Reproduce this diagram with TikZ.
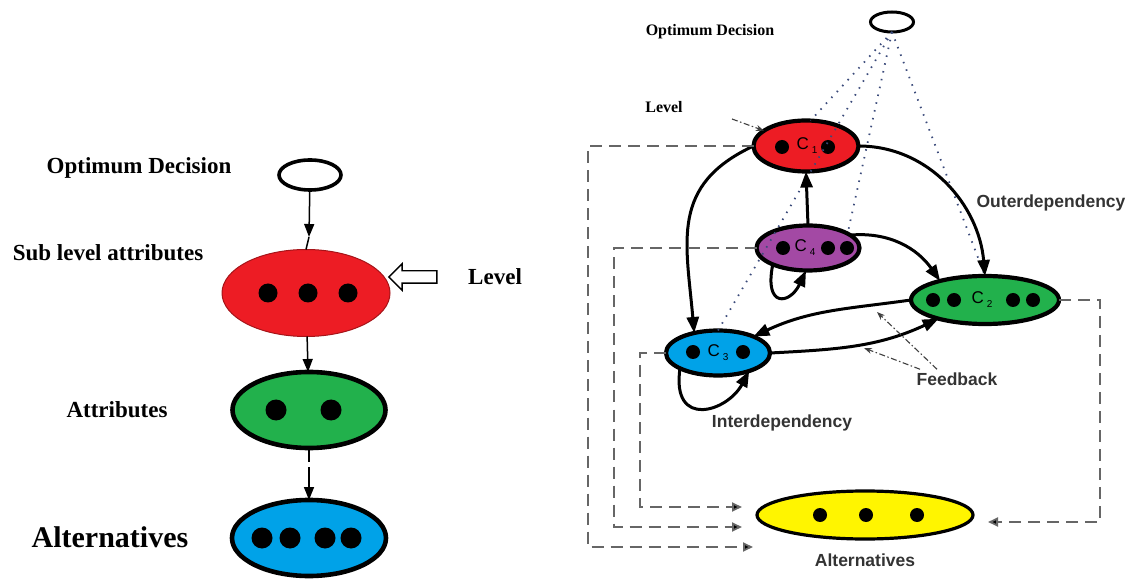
\documentclass[tikz,border=0pt]{standalone}
\usepackage{fontspec}
\setmainfont{Liberation Serif}
\setsansfont{Liberation Sans}
\usetikzlibrary{shapes.geometric, shapes.arrows, arrows.meta, positioning}

\definecolor{levred}{HTML}{ED1C24}
\definecolor{attgreen}{HTML}{22B14C}
\definecolor{altblue}{HTML}{00A2E8}
\definecolor{critpurple}{HTML}{A349A4}
\definecolor{altyellow}{HTML}{FFF500}
\definecolor{dotblue}{HTML}{3A4A7A}
\definecolor{dashgray}{HTML}{666666}

\newcommand{\critlab}[1]{{\sffamily\fontsize{17}{17}\selectfont C\,\raisebox{-4pt}{\fontsize{10}{10}\selectfont #1}}}

\begin{document}
\begin{tikzpicture}[x=1pt, y=1pt, outer sep=0pt]

\tikzstyle{blob}=[ellipse, draw, line width=4.2pt, inner sep=0pt]
\tikzstyle{bigtext}=[font=\bfseries\fontsize{23}{26}\selectfont]
\tikzstyle{smalltext}=[font=\bfseries\fontsize{16}{18}\selectfont]
\tikzstyle{sanstext}=[font=\sffamily\bfseries\fontsize{17.5}{20}\selectfont, text=black!80]
\tikzstyle{thinarr}=[line width=1.5pt, -{Triangle[length=13pt, width=10pt]}]
\tikzstyle{solidarr}=[line width=3pt, -{Triangle[length=16pt, width=12pt]}]
\tikzstyle{dasharr}=[line width=1.8pt, dashgray, dash pattern=on 12pt off 7pt, -{Triangle[length=10pt, width=9pt, fill=black]}]
\tikzstyle{dotline}=[line width=1.8pt, dotblue, dash pattern=on 1.5pt off 6.5pt]
\tikzstyle{fbarrow}=[line width=1.1pt, black!75, dash pattern=on 6pt off 2.5pt on 1.5pt off 2.5pt, -{Stealth[length=8pt, width=6pt]}]

\useasboundingbox (0,0) rectangle (1131,581);

% left: the plain hierarchy
\node[blob, fill=white, line width=3.6pt, minimum width=62pt, minimum height=30pt] (optL) at (310,406) {};
\node[ellipse, draw=levred!70!black, line width=1pt, fill=levred, minimum width=168pt, minimum height=87pt] (subL) at (306,288) {};
\node[blob, fill=attgreen, line width=4.6pt, minimum width=153pt, minimum height=76pt] (attL) at (309,171) {};
\node[blob, fill=altblue, line width=4.6pt, minimum width=154pt, minimum height=76pt] (altL) at (309,43) {};

\foreach \x in {268,308,348} \fill (\x,288) circle (9.5);
\foreach \x in {276,331} \fill (\x,171) circle (10.5);
\foreach \x in {262,290,325,351} \fill (\x,43) circle (10.5);

\node[bigtext] (optLtxt) at (139,413) {Optimum Decision};
\node[bigtext] (subLtxt) at (108,328) {Sub level attributes};
\node[bigtext] (attLtxt) at (117,171) {Attributes};
\node[font=\bfseries\fontsize{30}{34}\selectfont] (altLtxt) at (110,44) {Alternatives};

\node[single arrow, draw, line width=1.4pt, shape border rotate=180, minimum height=48pt,
      minimum width=26pt, single arrow head extend=7pt, inner xsep=0pt, inner ysep=5.5pt] (lvArrL) at (416,304) {};
\node[bigtext, right=28pt of lvArrL] (lvLtxt) {Level};

\coordinate (tipL) at (309,344);
\draw[thinarr] (optL) -- (tipL);
\draw[line width=1.5pt] (tipL) -- (subL.north);
\draw[thinarr] (subL) -- (attL);
\draw[thinarr, dash pattern=on 14pt off 5pt on 60pt off 0pt] (attL) -- (altL);

% right: the network with feedback
\node[blob, fill=white, line width=3pt, minimum width=43pt, minimum height=20pt] (optR) at (892,559) {};
\node[blob, fill=levred, minimum width=105pt, minimum height=51pt] (c1) at (806,435) {\hspace{2pt}\critlab{1}};
\node[blob, fill=critpurple, minimum width=103pt, minimum height=45pt] (c4) at (808,333) {\hspace{-6pt}\critlab{4}};
\node[blob, fill=attgreen, minimum width=148pt, minimum height=48pt] (c2) at (985,281) {\hspace{-6pt}\critlab{2}};
\node[blob, fill=altblue, minimum width=104pt, minimum height=45pt] (c3) at (718,228) {\critlab{3}};
\node[blob, fill=altyellow, line width=3.2pt, minimum width=216pt, minimum height=48pt] (alt) at (865,66) {};

\foreach \x in {782,828} \fill (\x,434) circle (7);
\foreach \x in {783,828,847} \fill (\x,333) circle (7);
\foreach \x in {933,954,1013,1033} \fill (\x,281) circle (7);
\foreach \x in {693,743} \fill (\x,229) circle (7);
\foreach \x in {820,866,917} \fill (\x,66) circle (7);

\node[smalltext] (optRtxt) at (710,549) {Optimum Decision};
\node[smalltext] (lvRtxt) at (664,474) {Level};
\node[sanstext] (outer) at (1051,378) {Outerdependency};
\node[sanstext] (inter) at (782,158) {Interdependency};
\node[sanstext] (fb) at (957,202) {Feedback};
\node[sanstext] (altRtxt) at (865,21) {Alternatives};

% dotted links to the decision
\draw[dotline] (optR.south) -- (c1.80);
\draw[dotline] (optR.south) -- (c3.north);
\draw[dotline] (optR.south) -- (c4.20);
\draw[dotline] (optR.south) -- (c2.north);

% dependencies
\draw[solidarr] (c1.west) to[out=205, in=95, looseness=1.2] (c3.140);
\draw[solidarr] (c1.east) to[out=0, in=95] (c2.north);
\draw[solidarr] (c4.17) to[out=5, in=125] (c2.157);
\draw[solidarr] (c2.west) to[out=188, in=25] (c3.25);
\draw[solidarr] (c3.east) to[out=3, in=205] (c2.202);
\draw[solidarr] (c4.north) -- (c1.south);
\draw[solidarr] (c4.205) .. controls +(-9,-44) and +(-16,-34) .. (c4.265);
\draw[solidarr] (c3.202) .. controls +(-9,-61) and +(-22,-41) .. (c3.330);

% pointers
\coordinate (lvRfrom) at (732,462);
\draw[fbarrow] (lvRfrom) -- (c1.160);
\coordinate (fbtipA) at (877,269);
\coordinate (fbtipB) at (864,233);
\draw[fbarrow] ([xshift=-20pt]fb.north) -- (fbtipA);
\draw[fbarrow] ([xshift=-37pt]fb.north) -- (fbtipB);

% links to the alternatives
\coordinate (inA) at (753,34);
\coordinate (inB) at (742,54);
\coordinate (inC) at (742,74);
\coordinate (inD) at (988,59);
\draw[dasharr] (c1.west) -| (588,34) -- (inA);
\draw[dasharr] (c4.west) -| (614,54) -- (inB);
\draw[dasharr] (c3.west) -| (640,74) -- (inC);
\draw[dasharr] (c2.east) -| (1100,59) -- (inD);
\end{tikzpicture}
\end{document}
